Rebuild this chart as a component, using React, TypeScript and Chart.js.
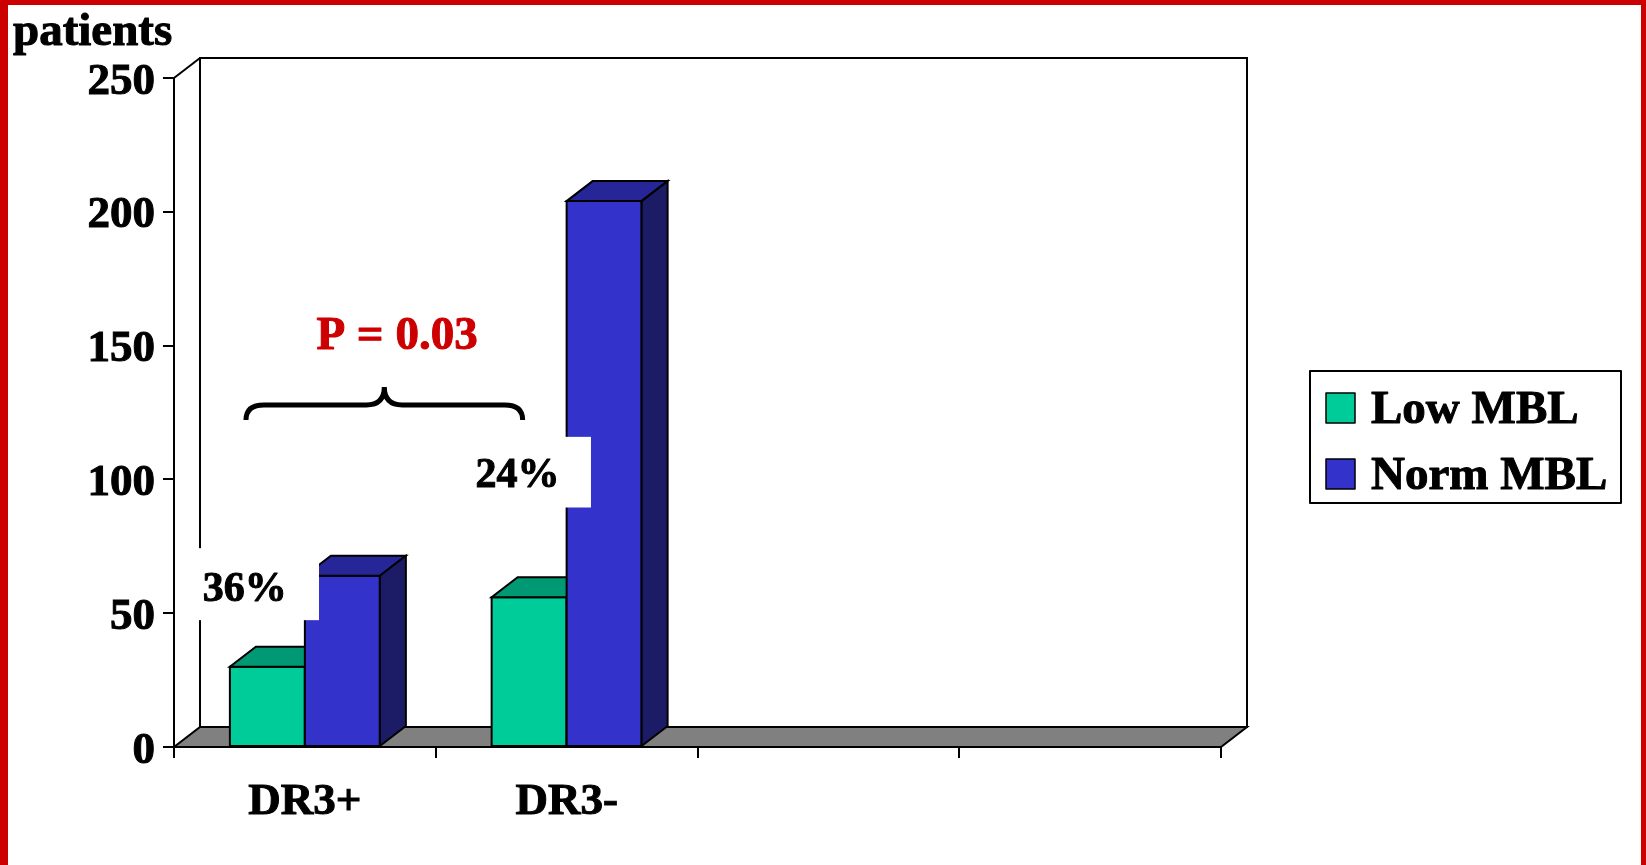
import React, { useEffect, useRef } from "react";
import { Chart, registerables } from "chart.js";

Chart.register(...registerables);

// ---- data ----
const categories = ["DR3+", "DR3-", "", ""];
const lowMBL: (number | null)[] = [30, 56, null, null];
const normMBL: (number | null)[] = [64, 204, null, null];
const seriesNames = ["Low MBL", "Norm MBL"];
const yTickMin = 0;
const yTickMax = 250;
const yTickStep = 50;
const percentLabels = ["36%", "24%"];
const pValueLabel = "P = 0.03";
const axisTitle = "patients";

// ---- styling ----
const W = 1646;
const H = 865;
const SERIF = '"Liberation Serif", "Times New Roman", serif';
const FRONT = ["#00CC99", "#3333CC"];
const TOP = ["#009973", "#262699"];
const SIDE = ["#00664D", "#1C1C66"];
const FLOOR = "#808080";
const RED = "#CC0000";
const DX = 26; // depth offset of the 3D box, x
const DY = -20; // depth offset of the 3D box, y
const TEXT_STROKE = 1;

type Ctx = CanvasRenderingContext2D;

function catPx(chart: any, idx: number) {
  const x = chart.scales.x;
  const w = (x.right - x.left) / categories.length;
  return x.left + (idx + 0.5) * w;
}
function valPx(chart: any, v: number) {
  return chart.scales.y.getPixelForValue(v);
}

// bold text with a hairline outline so the glyphs read as heavy as the print face
function heavyText(ctx: Ctx, text: string, x: number, y: number, color: string) {
  ctx.fillStyle = color;
  ctx.strokeStyle = color;
  ctx.lineWidth = TEXT_STROKE;
  ctx.lineJoin = "round";
  ctx.strokeText(text, x, y);
  ctx.fillText(text, x, y);
}

function drawBrace(ctx: Ctx, x1: number, x2: number, yLine: number, yArm: number, yPeak: number) {
  const xm = (x1 + x2) / 2;
  const r = 18;
  ctx.beginPath();
  ctx.moveTo(x1, yArm);
  ctx.quadraticCurveTo(x1, yLine, x1 + r, yLine);
  ctx.lineTo(xm - r, yLine);
  ctx.quadraticCurveTo(xm, yLine, xm, yPeak);
  ctx.quadraticCurveTo(xm, yLine, xm + r, yLine);
  ctx.lineTo(x2 - r, yLine);
  ctx.quadraticCurveTo(x2, yLine, x2, yArm);
  ctx.stroke();
}

function labelBox(ctx: Ctx, x1: number, x2: number, y1: number, y2: number, text: string, tx: number, ty: number) {
  ctx.fillStyle = "#FFFFFF";
  ctx.fillRect(x1, y1, x2 - x1, y2 - y1);
  ctx.font = `bold 42px ${SERIF}`;
  ctx.textAlign = "center";
  ctx.textBaseline = "alphabetic";
  heavyText(ctx, text, tx, ty, "#000");
}

const box3d = {
  id: "box3d",
  beforeDraw(chart: any) {
    const ctx: Ctx = chart.ctx;
    ctx.save();
    ctx.fillStyle = "#FFFFFF";
    ctx.fillRect(0, 0, chart.width, chart.height);
    ctx.restore();
  },
  beforeDatasetsDraw(chart: any) {
    const ctx: Ctx = chart.ctx;
    const x = chart.scales.x;
    const l = x.left;
    const r = x.right;
    const b = valPx(chart, yTickMin);
    const t = valPx(chart, yTickMax);
    ctx.save();
    ctx.lineWidth = 2;
    ctx.strokeStyle = "#000";
    ctx.lineJoin = "miter";
    // back wall
    ctx.beginPath();
    ctx.rect(l + DX, t + DY, r - l, b - t);
    ctx.fillStyle = "#FFFFFF";
    ctx.fill();
    ctx.stroke();
    // top edge of the side wall
    ctx.beginPath();
    ctx.moveTo(l, t);
    ctx.lineTo(l + DX, t + DY);
    ctx.stroke();
    // floor
    ctx.beginPath();
    ctx.moveTo(l, b);
    ctx.lineTo(r, b);
    ctx.lineTo(r + DX, b + DY);
    ctx.lineTo(l + DX, b + DY);
    ctx.closePath();
    ctx.fillStyle = FLOOR;
    ctx.fill();
    ctx.stroke();
    ctx.restore();
  },
  beforeDatasetDraw() {
    // bars are drawn as 3D boxes below
    return false;
  },
  afterDatasetsDraw(chart: any) {
    const ctx: Ctx = chart.ctx;
    ctx.save();
    ctx.lineWidth = 2;
    ctx.strokeStyle = "#000";
    ctx.lineJoin = "miter";
    for (let i = 0; i < categories.length; i++) {
      chart.data.datasets.forEach((ds: any, d: number) => {
        if (ds.data[i] == null) return;
        const el = chart.getDatasetMeta(d).data[i];
        const { x, y, base, width } = el.getProps(["x", "y", "base", "width"], true);
        const x1 = x - width / 2;
        const x2 = x + width / 2;
        // front
        ctx.fillStyle = FRONT[d];
        ctx.beginPath();
        ctx.rect(x1, y, x2 - x1, base - y);
        ctx.fill();
        ctx.stroke();
        // top
        ctx.fillStyle = TOP[d];
        ctx.beginPath();
        ctx.moveTo(x1, y);
        ctx.lineTo(x2, y);
        ctx.lineTo(x2 + DX, y + DY);
        ctx.lineTo(x1 + DX, y + DY);
        ctx.closePath();
        ctx.fill();
        ctx.stroke();
        // side
        ctx.fillStyle = SIDE[d];
        ctx.beginPath();
        ctx.moveTo(x2, y);
        ctx.lineTo(x2 + DX, y + DY);
        ctx.lineTo(x2 + DX, base + DY);
        ctx.lineTo(x2, base);
        ctx.closePath();
        ctx.fill();
        ctx.stroke();
      });
    }
    ctx.restore();
  },
  afterDraw(chart: any) {
    const ctx: Ctx = chart.ctx;
    ctx.save();

    // brace linking the two groups
    ctx.strokeStyle = "#000";
    ctx.lineWidth = 5;
    ctx.lineCap = "butt";
    drawBrace(
      ctx,
      catPx(chart, -0.225),
      catPx(chart, 0.832),
      valPx(chart, 127.8),
      valPx(chart, 122.2),
      valPx(chart, 134.5)
    );

    // p-value
    ctx.font = `bold 47px ${SERIF}`;
    ctx.textAlign = "center";
    ctx.textBaseline = "alphabetic";
    heavyText(ctx, pValueLabel, catPx(chart, 0.352), valPx(chart, 148.6), RED);

    // percentage boxes
    labelBox(
      ctx,
      catPx(chart, -0.485),
      catPx(chart, 0.054),
      valPx(chart, 74.3),
      valPx(chart, 47.4),
      percentLabels[0],
      catPx(chart, -0.23),
      valPx(chart, 54.7)
    );
    labelBox(
      ctx,
      catPx(chart, 0.536),
      catPx(chart, 1.093),
      valPx(chart, 115.9),
      valPx(chart, 89.5),
      percentLabels[1],
      catPx(chart, 0.812),
      valPx(chart, 97.0)
    );

    // axis title
    ctx.font = `bold 47px ${SERIF}`;
    ctx.textAlign = "left";
    heavyText(ctx, axisTitle, 13, 45, "#000");

    // legend
    const lx = chart.chartArea.right + 89;
    const ly = 371;
    ctx.lineWidth = 2;
    ctx.strokeStyle = "#000";
    ctx.fillStyle = "#FFF";
    ctx.beginPath();
    ctx.rect(lx, ly, 311, 132);
    ctx.fill();
    ctx.stroke();
    ctx.font = `bold 47px ${SERIF}`;
    seriesNames.forEach((name, k) => {
      const rowY = ly + 22 + k * 66;
      ctx.fillStyle = FRONT[k];
      ctx.strokeStyle = "#000";
      ctx.lineWidth = 1.5;
      ctx.beginPath();
      ctx.rect(lx + 16, rowY, 29, 30);
      ctx.fill();
      ctx.stroke();
      heavyText(ctx, name, lx + 61, rowY + 30, "#000");
    });

    // slide frame
    ctx.fillStyle = RED;
    ctx.fillRect(0, 0, chart.width, 5);
    ctx.fillRect(0, 0, 8, chart.height);
    ctx.fillRect(chart.width - 5, 0, 5, chart.height);

    ctx.restore();
  },
};

export default function App() {
  const canvasRef = useRef<HTMLCanvasElement | null>(null);

  useEffect(() => {
    if (!canvasRef.current) return;
    const tickFont = { family: SERIF, size: 45, weight: "bold" as const };
    const chart = new Chart(canvasRef.current, {
      type: "bar",
      data: {
        labels: categories,
        datasets: [
          { label: seriesNames[0], data: lowMBL, backgroundColor: FRONT[0] },
          { label: seriesNames[1], data: normMBL, backgroundColor: FRONT[1] },
        ],
      },
      options: {
        animation: false,
        responsive: false,
        maintainAspectRatio: false,
        layout: { padding: { top: 78, right: W - 1221, left: 0, bottom: 0 } },
        datasets: { bar: { categoryPercentage: 0.573, barPercentage: 1.0 } },
        plugins: {
          legend: { display: false },
          tooltip: { enabled: false },
          title: { display: false },
        },
        scales: {
          x: {
            grid: {
              offset: true,
              drawOnChartArea: false,
              drawTicks: true,
              tickLength: 11,
              tickWidth: 2,
              tickColor: "#000",
              color: "#000",
              lineWidth: 2,
            },
            border: { display: true, color: "#000", width: 2, z: 1 },
            ticks: {
              font: tickFont,
              color: "#000",
              textStrokeColor: "#000",
              textStrokeWidth: TEXT_STROKE,
              padding: 17,
              maxRotation: 0,
              autoSkip: false,
            },
            afterFit: (s: any) => {
              s.height = H - 747;
            },
          },
          y: {
            min: yTickMin,
            max: yTickMax,
            grid: {
              drawOnChartArea: false,
              drawTicks: true,
              tickLength: 11,
              tickWidth: 2,
              tickColor: "#000",
              color: "#000",
              lineWidth: 2,
            },
            border: { display: true, color: "#000", width: 2, z: 1 },
            ticks: {
              stepSize: yTickStep,
              font: tickFont,
              color: "#000",
              textStrokeColor: "#000",
              textStrokeWidth: TEXT_STROKE,
              padding: 8,
              labelOffset: 4,
            },
            afterFit: (s: any) => {
              s.width = 174;
            },
          },
        },
      },
      plugins: [box3d],
    });
    return () => chart.destroy();
  }, []);

  return (
    <div style={{ position: "absolute", left: 0, top: 0, width: W, height: H, background: "#fff" }}>
      <canvas ref={canvasRef} width={W} height={H} style={{ display: "block", width: W, height: H }} />
    </div>
  );
}
